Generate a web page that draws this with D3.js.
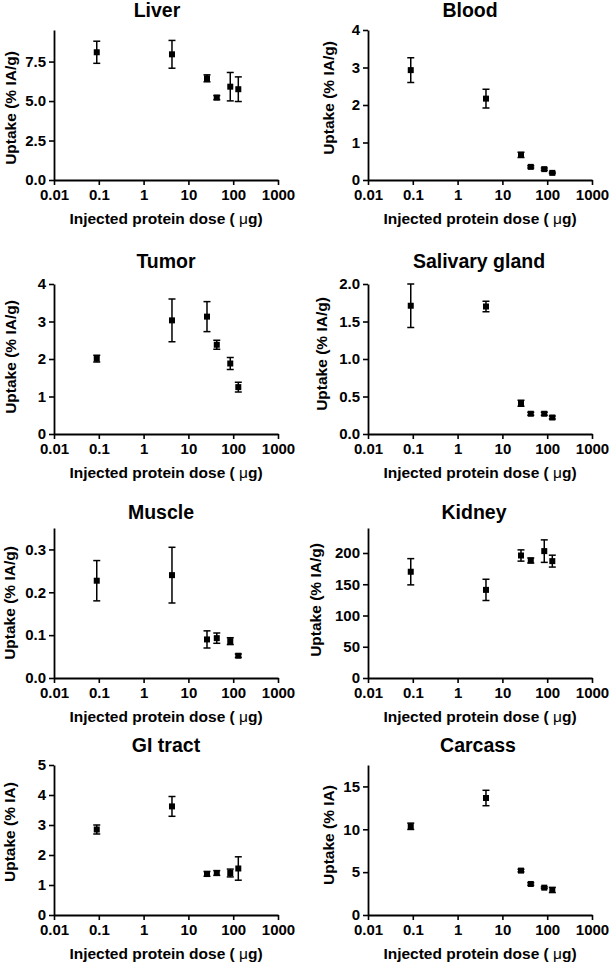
<!DOCTYPE html>
<html>
<head>
<meta charset="utf-8">
<script src="https://cdn.jsdelivr.net/npm/d3@7"></script>
<style>
  html, body { margin: 0; padding: 0; background: #fff; }
  svg { display: block; }
  text { font-family: "Liberation Sans", Arial, sans-serif; font-weight: bold; fill: #000; }
</style>
</head>
<body>
<svg id="chart" width="609" height="964"></svg>
<script>
// ---------------- DATA ----------------
const doses = [0.09, 4.3, 26, 43, 86, 130];           // injected protein dose (µg)
const xTicks = [0.01, 0.1, 1, 10, 100, 1000];
const xTickLabels = ["0.01", "0.1", "1", "10", "100", "1000"];

const organs = ["Liver", "Blood", "Tumor", "Salivary gland", "Muscle", "Kidney", "GI tract", "Carcass"];
const yLabels = ["Uptake (% IA/g)", "Uptake (% IA/g)", "Uptake (% IA/g)", "Uptake (% IA/g)",
                 "Uptake (% IA/g)", "Uptake (% IA/g)", "Uptake (% IA)", "Uptake (% IA)"];

const liverMean = [8.09, 7.96, 6.44, 5.22, 5.91, 5.75];
const liverErr  = [0.70, 0.88, 0.22, 0.13, 0.90, 0.78];
const bloodMean = [2.93, 2.17, 0.67, 0.35, 0.29, 0.19];
const bloodErr  = [0.33, 0.25, 0.07, 0.03, 0.03, 0.02];
const tumorMean = [2.01, 3.03, 3.13, 2.38, 1.88, 1.25];
const tumorErr  = [0.09, 0.57, 0.40, 0.12, 0.16, 0.13];
const salivaryMean = [1.71, 1.70, 0.41, 0.27, 0.27, 0.22];
const salivaryErr  = [0.29, 0.07, 0.04, 0.02, 0.02, 0.02];
const muscleMean = [0.227, 0.240, 0.090, 0.093, 0.086, 0.052];
const muscleErr  = [0.047, 0.065, 0.020, 0.012, 0.008, 0.004];
const kidneyMean = [170, 141, 196, 188, 203, 187];
const kidneyErr  = [21, 17, 9, 4, 18, 9.5];
const giMean = [2.85, 3.62, 1.37, 1.40, 1.40, 1.55];
const giErr  = [0.15, 0.33, 0.08, 0.08, 0.13, 0.39];
const carcassMean = [10.35, 13.65, 5.18, 3.62, 3.19, 2.92];
const carcassErr  = [0.37, 0.90, 0.15, 0.15, 0.10, 0.30];

const means = [liverMean, bloodMean, tumorMean, salivaryMean, muscleMean, kidneyMean, giMean, carcassMean];
const errs  = [liverErr, bloodErr, tumorErr, salivaryErr, muscleErr, kidneyErr, giErr, carcassErr];

const yMax = [9.5, 4, 4, 2, 0.35, 240, 5, 17.5];
const yTicks = [
  [0, 2.5, 5, 7.5],
  [0, 1, 2, 3, 4],
  [0, 1, 2, 3, 4],
  [0, 0.5, 1, 1.5, 2],
  [0, 0.1, 0.2, 0.3],
  [0, 50, 100, 150, 200],
  [0, 1, 2, 3, 4, 5],
  [0, 5, 10, 15]
];
const yTickLabels = [
  ["0.0", "2.5", "5.0", "7.5"],
  ["0", "1", "2", "3", "4"],
  ["0", "1", "2", "3", "4"],
  ["0.0", "0.5", "1.0", "1.5", "2.0"],
  ["0.0", "0.1", "0.2", "0.3"],
  ["0", "50", "100", "150", "200"],
  ["0", "1", "2", "3", "4", "5"],
  ["0", "5", "10", "15"]
];
const xLabelMain = "Injected protein dose ( ";
const xLabelUnit = "\u03BC";
const xLabelEnd = "g)";

// ---------------- LAYOUT ----------------
const colLeft = [54, 368];
const plotW = 224;
const rowTop = [30, 284, 528, 765];
const plotH = 150;
const titleBase = [17, 268, 519, 752];
const titleX = [157, 470, 166, 479, 161, 474, 166, 478];
const yLabelX = [10, 328, 10, 321, 9, 315, 9, 328];
const yLabelY = [108, 98, 357, 354, 603, 600, 832, 835];

const svg = d3.select("#chart");

organs.forEach((name, i) => {
  const col = i % 2, row = Math.floor(i / 2);
  const x0 = colLeft[col], y0 = rowTop[row];

  const x = d3.scaleLog().domain([0.01, 1000]).range([x0, x0 + plotW]);
  const y = d3.scaleLinear().domain([0, yMax[i]]).range([y0 + plotH, y0]);

  const g = svg.append("g");

  // title
  g.append("text")
    .attr("x", titleX[i]).attr("y", titleBase[row])
    .attr("text-anchor", "middle")
    .style("font-size", "19.5px")
    .text(name);

  // y axis
  const yAxis = d3.axisLeft(y)
    .tickValues(yTicks[i])
    .tickFormat((d, k) => yTickLabels[i][k])
    .tickSize(5).tickSizeOuter(0).tickPadding(3);
  const ya = g.append("g").attr("transform", `translate(${x0},0)`).call(yAxis);

  // x axis
  const xAxis = d3.axisBottom(x)
    .tickValues(xTicks)
    .tickFormat((d, k) => xTickLabels[k])
    .tickSize(5).tickSizeOuter(0).tickPadding(4);
  const xa = g.append("g").attr("transform", `translate(0,${y0 + plotH})`).call(xAxis);

  [ya, xa].forEach(a => {
    a.select(".domain").attr("stroke", "#000").attr("stroke-width", 1.8);
    a.selectAll(".tick line").attr("stroke", "#000").attr("stroke-width", 1.6);
    a.selectAll(".tick text")
      .style("font-family", '"Liberation Sans", Arial, sans-serif')
      .style("font-weight", "bold")
      .style("font-size", "15px")
      .attr("fill", "#000");
  });

  // y label
  g.append("text")
    .attr("transform", `translate(${yLabelX[i]},${yLabelY[i]}) rotate(-90)`)
    .attr("text-anchor", "middle")
    .attr("dominant-baseline", "central")
    .style("font-size", "15.5px")
    .text(yLabels[i]);

  // x label
  const xl = g.append("text")
    .attr("x", x0 + plotW / 2).attr("y", y0 + plotH + 44)
    .attr("text-anchor", "middle")
    .style("font-size", "15.5px");
  xl.append("tspan").text(xLabelMain);
  xl.append("tspan").style("font-weight", "normal").text(xLabelUnit);
  xl.append("tspan").text(xLabelEnd);

  // data
  const pts = doses.map((d, k) => ({ d, m: means[i][k], e: errs[i][k] }));
  const cap = 3.5;
  const eb = g.append("g").attr("stroke", "#000").attr("stroke-width", 1.5);
  pts.forEach(p => {
    const cx = x(p.d);
    const top = y(p.m + p.e), bot = y(p.m - p.e);
    eb.append("line").attr("x1", cx).attr("x2", cx).attr("y1", top).attr("y2", bot);
    eb.append("line").attr("x1", cx - cap).attr("x2", cx + cap).attr("y1", top).attr("y2", top);
    eb.append("line").attr("x1", cx - cap).attr("x2", cx + cap).attr("y1", bot).attr("y2", bot);
  });
  g.append("g").selectAll("rect").data(pts).join("rect")
    .attr("x", p => x(p.d) - 3).attr("y", p => y(p.m) - 3)
    .attr("width", 6).attr("height", 6)
    .attr("fill", "#000");
});
</script>
</body>
</html>
